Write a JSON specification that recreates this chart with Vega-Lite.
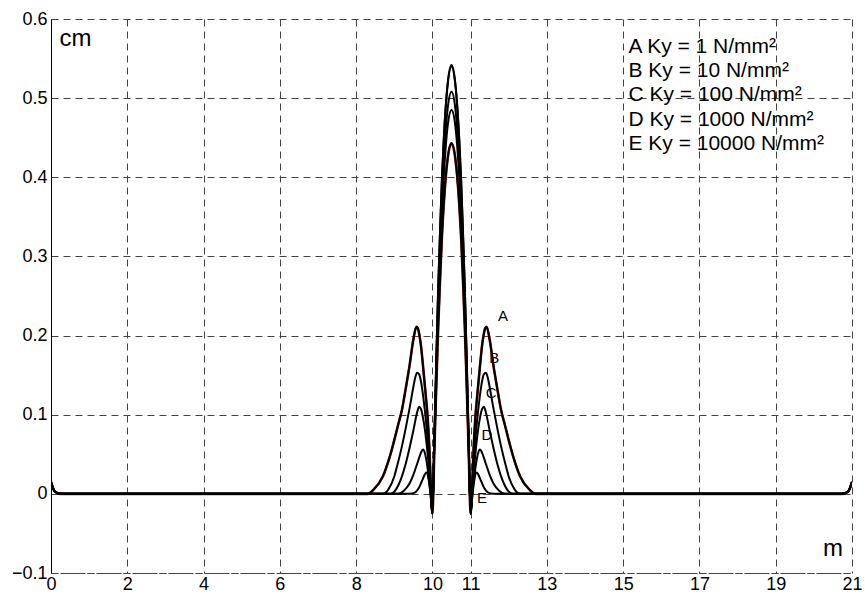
{
  "$schema": "https://vega.github.io/schema/vega-lite/v6.json",
  "width": 801,
  "height": 554,
  "autosize": "none",
  "padding": {"left": 51, "top": 19, "right": 13, "bottom": 26},
  "background": "white",
  "config": {
    "view": {"stroke": null},
    "font": "Liberation Sans",
    "axis": {
      "labelFont": "Liberation Sans",
      "labelFontSize": 18,
      "labelColor": "black",
      "ticks": false,
      "grid": true,
      "gridColor": "#444",
      "gridDash": [7, 5],
      "gridWidth": 1,
      "gridOpacity": 1,
      "title": null
    }
  },
  "datasets": {
    "curves": [
      {"c":"A","x":0,"y":0.015},{"c":"A","x":0.1,"y":0.003},{"c":"A","x":0.25,"y":0},{"c":"A","x":8.3,"y":0},{"c":"A","x":8.45,"y":0.005},{"c":"A","x":8.7,"y":0.022},{"c":"A","x":8.9,"y":0.05},{"c":"A","x":9.1,"y":0.087},{"c":"A","x":9.2,"y":0.106},{"c":"A","x":9.3,"y":0.133},{"c":"A","x":9.4,"y":0.162},{"c":"A","x":9.5,"y":0.195},{"c":"A","x":9.58,"y":0.211},{"c":"A","x":9.62,"y":0.209},{"c":"A","x":9.66,"y":0.2},{"c":"A","x":9.7,"y":0.187},{"c":"A","x":9.76,"y":0.158},{"c":"A","x":9.82,"y":0.127},{"c":"A","x":9.88,"y":0.093},{"c":"A","x":9.92,"y":0.058},{"c":"A","x":9.955,"y":0.015},{"c":"A","x":10,"y":-0.025},
      {"c":"A","x":10.05,"y":0.055},{"c":"A","x":10.1,"y":0.134},{"c":"A","x":10.15,"y":0.209},{"c":"A","x":10.2,"y":0.27},{"c":"A","x":10.25,"y":0.326},{"c":"A","x":10.3,"y":0.368},{"c":"A","x":10.4,"y":0.424},{"c":"A","x":10.5,"y":0.443},{"c":"A","x":10.6,"y":0.424},{"c":"A","x":10.7,"y":0.368},{"c":"A","x":10.75,"y":0.326},{"c":"A","x":10.8,"y":0.27},{"c":"A","x":10.85,"y":0.209},{"c":"A","x":10.9,"y":0.134},{"c":"A","x":10.95,"y":0.055},{"c":"A","x":11,"y":-0.025},
      {"c":"A","x":11.045,"y":0.015},{"c":"A","x":11.08,"y":0.058},{"c":"A","x":11.12,"y":0.093},{"c":"A","x":11.18,"y":0.127},{"c":"A","x":11.24,"y":0.158},{"c":"A","x":11.3,"y":0.187},{"c":"A","x":11.34,"y":0.2},{"c":"A","x":11.38,"y":0.209},{"c":"A","x":11.42,"y":0.211},{"c":"A","x":11.5,"y":0.195},{"c":"A","x":11.6,"y":0.162},{"c":"A","x":11.7,"y":0.133},{"c":"A","x":11.8,"y":0.106},{"c":"A","x":11.9,"y":0.087},{"c":"A","x":12.1,"y":0.05},{"c":"A","x":12.3,"y":0.022},{"c":"A","x":12.55,"y":0.005},{"c":"A","x":12.7,"y":0},{"c":"A","x":20.75,"y":0},{"c":"A","x":20.9,"y":0.003},{"c":"A","x":21,"y":0.015},

      {"c":"B","x":0,"y":0.015},{"c":"B","x":0.1,"y":0.003},{"c":"B","x":0.25,"y":0},{"c":"B","x":8.7,"y":0},{"c":"B","x":8.85,"y":0.006},{"c":"B","x":9.0,"y":0.022},{"c":"B","x":9.1,"y":0.04},{"c":"B","x":9.2,"y":0.06},{"c":"B","x":9.3,"y":0.083},{"c":"B","x":9.4,"y":0.108},{"c":"B","x":9.5,"y":0.135},{"c":"B","x":9.55,"y":0.147},{"c":"B","x":9.6,"y":0.153},{"c":"B","x":9.65,"y":0.151},{"c":"B","x":9.7,"y":0.142},{"c":"B","x":9.75,"y":0.126},{"c":"B","x":9.8,"y":0.106},{"c":"B","x":9.85,"y":0.082},{"c":"B","x":9.9,"y":0.052},{"c":"B","x":9.95,"y":0.01},{"c":"B","x":10,"y":-0.025},
      {"c":"B","x":10.05,"y":0.062},{"c":"B","x":10.1,"y":0.148},{"c":"B","x":10.15,"y":0.23},{"c":"B","x":10.2,"y":0.296},{"c":"B","x":10.25,"y":0.358},{"c":"B","x":10.3,"y":0.403},{"c":"B","x":10.4,"y":0.465},{"c":"B","x":10.5,"y":0.485},{"c":"B","x":10.6,"y":0.465},{"c":"B","x":10.7,"y":0.403},{"c":"B","x":10.75,"y":0.358},{"c":"B","x":10.8,"y":0.296},{"c":"B","x":10.85,"y":0.23},{"c":"B","x":10.9,"y":0.148},{"c":"B","x":10.95,"y":0.062},{"c":"B","x":11,"y":-0.025},
      {"c":"B","x":11.05,"y":0.01},{"c":"B","x":11.1,"y":0.052},{"c":"B","x":11.15,"y":0.082},{"c":"B","x":11.2,"y":0.106},{"c":"B","x":11.25,"y":0.126},{"c":"B","x":11.3,"y":0.142},{"c":"B","x":11.35,"y":0.151},{"c":"B","x":11.4,"y":0.153},{"c":"B","x":11.45,"y":0.147},{"c":"B","x":11.5,"y":0.135},{"c":"B","x":11.6,"y":0.108},{"c":"B","x":11.7,"y":0.083},{"c":"B","x":11.8,"y":0.06},{"c":"B","x":11.9,"y":0.04},{"c":"B","x":12.0,"y":0.022},{"c":"B","x":12.15,"y":0.006},{"c":"B","x":12.3,"y":0},{"c":"B","x":20.75,"y":0},{"c":"B","x":20.9,"y":0.003},{"c":"B","x":21,"y":0.015},

      {"c":"C","x":0,"y":0.015},{"c":"C","x":0.1,"y":0.003},{"c":"C","x":0.25,"y":0},{"c":"C","x":8.9,"y":0},{"c":"C","x":9.05,"y":0.006},{"c":"C","x":9.2,"y":0.022},{"c":"C","x":9.3,"y":0.038},{"c":"C","x":9.4,"y":0.058},{"c":"C","x":9.5,"y":0.08},{"c":"C","x":9.6,"y":0.103},{"c":"C","x":9.65,"y":0.11},{"c":"C","x":9.7,"y":0.107},{"c":"C","x":9.75,"y":0.097},{"c":"C","x":9.8,"y":0.082},{"c":"C","x":9.85,"y":0.062},{"c":"C","x":9.9,"y":0.037},{"c":"C","x":9.95,"y":0.006},{"c":"C","x":10,"y":-0.025},
      {"c":"C","x":10.05,"y":0.066},{"c":"C","x":10.1,"y":0.156},{"c":"C","x":10.15,"y":0.242},{"c":"C","x":10.2,"y":0.311},{"c":"C","x":10.25,"y":0.375},{"c":"C","x":10.3,"y":0.423},{"c":"C","x":10.4,"y":0.487},{"c":"C","x":10.5,"y":0.508},{"c":"C","x":10.6,"y":0.487},{"c":"C","x":10.7,"y":0.423},{"c":"C","x":10.75,"y":0.375},{"c":"C","x":10.8,"y":0.311},{"c":"C","x":10.85,"y":0.242},{"c":"C","x":10.9,"y":0.156},{"c":"C","x":10.95,"y":0.066},{"c":"C","x":11,"y":-0.025},
      {"c":"C","x":11.05,"y":0.006},{"c":"C","x":11.1,"y":0.037},{"c":"C","x":11.15,"y":0.062},{"c":"C","x":11.2,"y":0.082},{"c":"C","x":11.25,"y":0.097},{"c":"C","x":11.3,"y":0.107},{"c":"C","x":11.35,"y":0.11},{"c":"C","x":11.4,"y":0.103},{"c":"C","x":11.5,"y":0.08},{"c":"C","x":11.6,"y":0.058},{"c":"C","x":11.7,"y":0.038},{"c":"C","x":11.8,"y":0.022},{"c":"C","x":11.95,"y":0.006},{"c":"C","x":12.1,"y":0},{"c":"C","x":20.75,"y":0},{"c":"C","x":20.9,"y":0.003},{"c":"C","x":21,"y":0.015},

      {"c":"D","x":0,"y":0.015},{"c":"D","x":0.1,"y":0.003},{"c":"D","x":0.25,"y":0},{"c":"D","x":9.1,"y":0},{"c":"D","x":9.25,"y":0.004},{"c":"D","x":9.4,"y":0.013},{"c":"D","x":9.5,"y":0.024},{"c":"D","x":9.6,"y":0.038},{"c":"D","x":9.7,"y":0.052},{"c":"D","x":9.75,"y":0.056},{"c":"D","x":9.8,"y":0.052},{"c":"D","x":9.85,"y":0.04},{"c":"D","x":9.9,"y":0.022},{"c":"D","x":9.95,"y":0},{"c":"D","x":10,"y":-0.025},
      {"c":"D","x":10.05,"y":0.071},{"c":"D","x":10.1,"y":0.167},{"c":"D","x":10.15,"y":0.258},{"c":"D","x":10.2,"y":0.331},{"c":"D","x":10.25,"y":0.399},{"c":"D","x":10.3,"y":0.45},{"c":"D","x":10.4,"y":0.517},{"c":"D","x":10.5,"y":0.54},{"c":"D","x":10.6,"y":0.517},{"c":"D","x":10.7,"y":0.45},{"c":"D","x":10.75,"y":0.399},{"c":"D","x":10.8,"y":0.331},{"c":"D","x":10.85,"y":0.258},{"c":"D","x":10.9,"y":0.167},{"c":"D","x":10.95,"y":0.071},{"c":"D","x":11,"y":-0.025},
      {"c":"D","x":11.05,"y":0},{"c":"D","x":11.1,"y":0.022},{"c":"D","x":11.15,"y":0.04},{"c":"D","x":11.2,"y":0.052},{"c":"D","x":11.25,"y":0.056},{"c":"D","x":11.3,"y":0.052},{"c":"D","x":11.4,"y":0.038},{"c":"D","x":11.5,"y":0.024},{"c":"D","x":11.6,"y":0.013},{"c":"D","x":11.75,"y":0.004},{"c":"D","x":11.9,"y":0},{"c":"D","x":20.75,"y":0},{"c":"D","x":20.9,"y":0.003},{"c":"D","x":21,"y":0.015},

      {"c":"E","x":0,"y":0.015},{"c":"E","x":0.1,"y":0.003},{"c":"E","x":0.25,"y":0},{"c":"E","x":9.4,"y":0},{"c":"E","x":9.55,"y":0.002},{"c":"E","x":9.65,"y":0.008},{"c":"E","x":9.75,"y":0.019},{"c":"E","x":9.84,"y":0.027},{"c":"E","x":9.9,"y":0.018},{"c":"E","x":9.95,"y":0},{"c":"E","x":10,"y":-0.025},
      {"c":"E","x":10.05,"y":0.071},{"c":"E","x":10.1,"y":0.168},{"c":"E","x":10.15,"y":0.259},{"c":"E","x":10.2,"y":0.332},{"c":"E","x":10.25,"y":0.4},{"c":"E","x":10.3,"y":0.451},{"c":"E","x":10.4,"y":0.519},{"c":"E","x":10.5,"y":0.542},{"c":"E","x":10.6,"y":0.519},{"c":"E","x":10.7,"y":0.451},{"c":"E","x":10.75,"y":0.4},{"c":"E","x":10.8,"y":0.332},{"c":"E","x":10.85,"y":0.259},{"c":"E","x":10.9,"y":0.168},{"c":"E","x":10.95,"y":0.071},{"c":"E","x":11,"y":-0.025},
      {"c":"E","x":11.05,"y":0},{"c":"E","x":11.1,"y":0.018},{"c":"E","x":11.16,"y":0.027},{"c":"E","x":11.25,"y":0.019},{"c":"E","x":11.35,"y":0.008},{"c":"E","x":11.45,"y":0.002},{"c":"E","x":11.6,"y":0},{"c":"E","x":20.75,"y":0},{"c":"E","x":20.9,"y":0.003},{"c":"E","x":21,"y":0.015}
    ]
  },
  "encoding": {
    "x": {
      "type": "quantitative",
      "scale": {"domain": [0, 21], "nice": false, "zero": false},
      "axis": {
        "values": [0, 2, 4, 6, 8, 10, 11, 13, 15, 17, 19, 21],
        "labelPadding": 2,
        "domain": true,
        "domainColor": "#444",
        "domainDash": [7, 2],
        "labelFlush": false
      }
    },
    "y": {
      "type": "quantitative",
      "scale": {"domain": [-0.1, 0.6], "nice": false, "zero": false},
      "axis": {
        "values": [-0.1, 0, 0.1, 0.2, 0.3, 0.4, 0.5, 0.6],
        "labelExpr": "datum.value == 0 ? '0' : format(datum.value, '.1f')",
        "labelPadding": 4,
        "domain": true,
        "domainColor": "black",
        "domainWidth": 1,
        "labelFlush": false
      }
    }
  },
  "layer": [
    {
      "data": {"name": "curves"},
      "transform": [{"filter": "datum.c == 'A'"}],
      "mark": {"type": "line", "interpolate": "monotone", "strokeWidth": 2.6, "clip": true, "color": "#8a1c1c"},
      "encoding": {
        "x": {"field": "x", "type": "quantitative"},
        "y": {"field": "y", "type": "quantitative"}
      }
    },
    {
      "data": {"name": "curves"},
      "mark": {"type": "line", "interpolate": "monotone", "strokeWidth": 2, "clip": true},
      "encoding": {
        "x": {"field": "x", "type": "quantitative"},
        "y": {"field": "y", "type": "quantitative"},
        "detail": {"field": "c"},
        "color": {"value": "black"}
      }
    },
    {
      "data": {"values": [{}]},
      "mark": {"type": "text", "font": "Liberation Sans", "fontSize": 24, "align": "left", "baseline": "middle", "color": "black"},
      "encoding": {"x": {"datum": 0.22}, "y": {"datum": 0.575}, "text": {"value": "cm"}}
    },
    {
      "data": {"values": [{}]},
      "mark": {"type": "text", "font": "Liberation Sans", "fontSize": 24, "align": "center", "baseline": "middle", "color": "black"},
      "encoding": {"x": {"datum": 20.5}, "y": {"datum": -0.07}, "text": {"value": "m"}}
    },
    {
      "data": {"values": [{}]},
      "mark": {"type": "text", "font": "Liberation Sans", "fontSize": 21, "align": "left", "baseline": "alphabetic", "lineHeight": 24.3, "color": "black"},
      "encoding": {
        "x": {"datum": 15.14},
        "y": {"datum": 0.5575},
        "text": {"value": ["A Ky = 1 N/mm²", "B Ky = 10 N/mm²", "C Ky = 100 N/mm²", "D Ky = 1000 N/mm²", "E Ky = 10000 N/mm²"]}
      }
    },
    {
      "data": {"values": [{}]},
      "mark": {"type": "text", "font": "Liberation Sans", "fontSize": 15, "align": "center", "baseline": "middle", "color": "black"},
      "encoding": {"x": {"datum": 11.85}, "y": {"datum": 0.225}, "text": {"value": "A"}}
    },
    {
      "data": {"values": [{}]},
      "mark": {"type": "text", "font": "Liberation Sans", "fontSize": 15, "align": "center", "baseline": "middle", "color": "black"},
      "encoding": {"x": {"datum": 11.62}, "y": {"datum": 0.172}, "text": {"value": "B"}}
    },
    {
      "data": {"values": [{}]},
      "mark": {"type": "text", "font": "Liberation Sans", "fontSize": 15, "align": "center", "baseline": "middle", "color": "black"},
      "encoding": {"x": {"datum": 11.54}, "y": {"datum": 0.128}, "text": {"value": "C"}}
    },
    {
      "data": {"values": [{}]},
      "mark": {"type": "text", "font": "Liberation Sans", "fontSize": 15, "align": "center", "baseline": "middle", "color": "black"},
      "encoding": {"x": {"datum": 11.43}, "y": {"datum": 0.075}, "text": {"value": "D"}}
    },
    {
      "data": {"values": [{}]},
      "mark": {"type": "text", "font": "Liberation Sans", "fontSize": 15, "align": "center", "baseline": "middle", "color": "black"},
      "encoding": {"x": {"datum": 11.3}, "y": {"datum": -0.005}, "text": {"value": "E"}}
    }
  ]
}
